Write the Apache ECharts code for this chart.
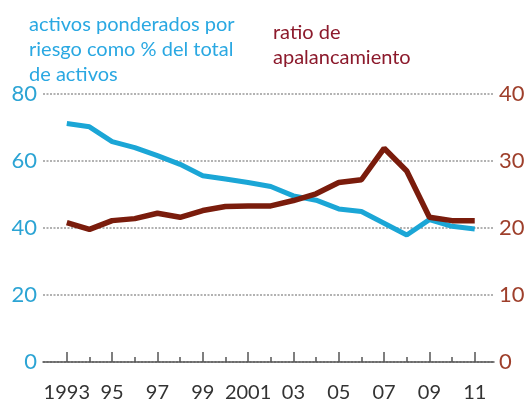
<!DOCTYPE html>
<html>
<head>
<meta charset="utf-8">
<script src="https://cdn.jsdelivr.net/npm/echarts@6/dist/echarts.min.js"></script>
<style>
  html, body { margin: 0; padding: 0; background: #fff; }
  #chart { width: 528px; height: 403px; }
</style>
</head>
<body>
<div id="chart"></div>
<script>
  // datos
  const years = [1993, 1994, 1995, 1996, 1997, 1998, 1999, 2000, 2001, 2002,
                 2003, 2004, 2005, 2006, 2007, 2008, 2009, 2010, 2011];
  const activosPonderados = [71.2, 70.2, 65.8, 64.0, 61.6, 59.0, 55.6, 54.6, 53.6, 52.4,
                             49.6, 48.3, 45.7, 44.9, 41.4, 37.9, 42.5, 40.5, 39.7];
  const ratioApalancamiento = [20.8, 19.8, 21.1, 21.4, 22.2, 21.6, 22.6, 23.2, 23.3, 23.3,
                               24.1, 25.1, 26.8, 27.2, 31.9, 28.5, 21.6, 21.1, 21.1];
  const majorTicks = [1993, 1995, 1997, 1999, 2001, 2003, 2005, 2007, 2009, 2011];
  const minorTicks = [1994, 1996, 1998, 2000, 2002, 2004, 2006, 2008, 2010];

  const blue = '#1ba6d6';
  const brown = '#7a1c0c';
  const font = 'Lato';

  let chart = echarts.init(document.getElementById('chart'));

  let option = {
    animation: false,
    title: [
      {
        text: 'activos ponderados por\nriesgo como % del total\nde activos',
        left: 29, top: 12, padding: 0,
        textStyle: { color: '#2aa8e2', fontSize: 20, lineHeight: 25, fontWeight: 'normal', fontFamily: font }
      },
      {
        text: 'ratio de\napalancamiento',
        left: 273, top: 20, padding: 0,
        textStyle: { color: '#8c1a2c', fontSize: 20, lineHeight: 25, fontWeight: 'normal', fontFamily: font }
      }
    ],
    grid: { left: 43, right: 34, top: 94, bottom: 40 },
    xAxis: [
      {
        type: 'value', min: 1991.95, max: 2011.85, position: 'bottom',
        splitLine: { show: false },
        axisLine: { show: true, lineStyle: { color: '#555', width: 1.5 } },
        axisTick: { show: true, inside: true, length: 10, customValues: majorTicks, lineStyle: { color: '#555', width: 1.5 } },
        axisLabel: {
          customValues: majorTicks, margin: 21, color: '#333', fontSize: 20, fontFamily: font,
          formatter: function (v) {
            if (v === 1993 || v === 2001) return String(v);
            return String(v).slice(2);
          }
        }
      },
      {
        // ticks menores
        type: 'value', min: 1991.95, max: 2011.85, position: 'bottom',
        splitLine: { show: false },
        axisLine: { show: false },
        axisTick: { show: true, inside: true, length: 5, customValues: minorTicks, lineStyle: { color: '#555', width: 1.5 } },
        axisLabel: { show: false }
      }
    ],
    yAxis: [
      {
        type: 'value', min: 0, max: 80, interval: 20, position: 'left',
        axisLine: { show: false }, axisTick: { show: false },
        axisLabel: { color: '#2ca4d4', fontSize: 22, margin: 6, fontFamily: font },
        splitLine: { show: true, lineStyle: { color: '#999', width: 1.5, type: [2, 1.5] } }
      },
      {
        type: 'value', min: 0, max: 40, interval: 10, position: 'right',
        axisLine: { show: false }, axisTick: { show: false },
        axisLabel: { color: '#9e3f2b', fontSize: 22, margin: 5, fontFamily: font },
        splitLine: { show: false }
      }
    ],
    series: [
      {
        name: 'activos ponderados', type: 'line', xAxisIndex: 0, yAxisIndex: 0,
        data: years.map((y, i) => [y, activosPonderados[i]]),
        showSymbol: false, lineStyle: { color: blue, width: 5 }, z: 3
      },
      {
        name: 'ratio de apalancamiento', type: 'line', xAxisIndex: 0, yAxisIndex: 1,
        data: years.map((y, i) => [y, ratioApalancamiento[i]]),
        showSymbol: false, lineStyle: { color: brown, width: 5.5 }, z: 4
      }
    ]
  };
  chart.setOption(option);
</script>
</body>
</html>
